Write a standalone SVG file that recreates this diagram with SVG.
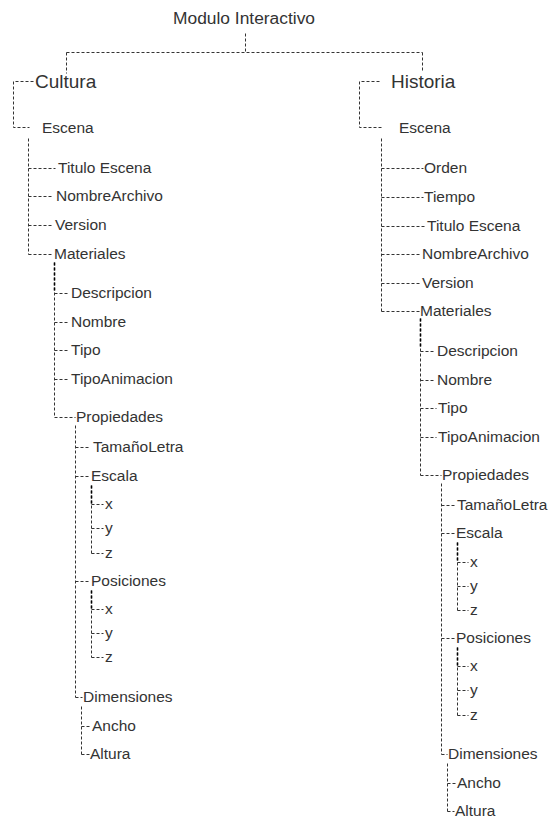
<svg xmlns="http://www.w3.org/2000/svg" width="552" height="818" viewBox="0 0 552 818">
<style>
text{font-family:"Liberation Sans",Arial,sans-serif;fill:#333;}
.t{font-size:15.5px;}
.h{font-size:19px;}
.c path{fill:none;stroke:#333;stroke-width:1;stroke-dasharray:3 2;}
.c path.b{stroke:#000;stroke-width:1.6;}
</style>
<rect width="552" height="818" fill="#fff"/>
<g class="c" id="connectors" transform="translate(0.5,0.5)">
<path d="M245,33V52M66,52H422M66,52V73M422,52V71"/>
<path d="M33,81H13V127H29"/>
<path d="M379,81H359V127H383"/>
<path d="M28,138V254M28,168H55M28,196H53M28,225H53M28,254H53"/>
<path d="M381,138V311M381,168H423M381,197H423M381,226H424M381,254H420M381,283H420M381,311H419"/>
<path d="M54,262V417M54,293H67M54,322H69M54,350H69M54,379H69M54,417H75"/>
<path class="b" d="M54,262V290"/>
<path d="M420,318V475M420,351H433M420,380H435M420,408H436M420,437H436M420,475H441"/>
<path class="b" d="M420,318V347"/>
<path d="M75,425V697M75,447H90M75,476H90M75,581H90M75,697H82"/>
<path d="M91,485V553M91,504H103M91,528H103M91,553H103"/>
<path class="b" d="M91,485V503"/>
<path d="M91,590V657M91,609H103M91,633H103M91,657H103"/>
<path class="b" d="M91,590V608"/>
<path d="M81,706V754M81,726H90M81,754H89"/>
<path d="M441,483V754M441,505H455M441,533H455M441,638H455M441,754H447"/>
<path d="M457,542V610M457,562H468M457,586H468M457,610H468"/>
<path class="b" d="M457,542V560"/>
<path d="M457,647V715M457,666H468M457,690H468M457,715H468"/>
<path class="b" d="M457,647V665"/>
<path d="M447,763V811M447,783H455M447,811H454"/>
</g>
<g id="modulo"><text x="173" y="24" textLength="142" lengthAdjust="spacingAndGlyphs" style="font-size:16px">Modulo Interactivo</text></g>
<g id="cultura"><text class="h" x="35" y="88">Cultura</text></g>
<g id="historia"><text class="h" x="391" y="88">Historia</text></g>
<g id="c-escena"><text class="t" x="42" y="133">Escena</text></g>
<g id="h-escena"><text class="t" x="399" y="133">Escena</text></g>
<g id="c-titulo"><text class="t" x="58" y="173">Titulo Escena</text></g>
<g id="c-nombrearchivo"><text class="t" x="56" y="201">NombreArchivo</text></g>
<g id="c-version"><text class="t" x="55" y="230">Version</text></g>
<g id="c-materiales"><text class="t" x="54" y="259">Materiales</text></g>
<g id="h-orden"><text class="t" x="424" y="173">Orden</text></g>
<g id="h-tiempo"><text class="t" x="424" y="202">Tiempo</text></g>
<g id="h-titulo"><text class="t" x="427" y="231">Titulo Escena</text></g>
<g id="h-nombrearchivo"><text class="t" x="422" y="259">NombreArchivo</text></g>
<g id="h-version"><text class="t" x="422" y="288">Version</text></g>
<g id="h-materiales"><text class="t" x="420" y="316">Materiales</text></g>
<g id="c-descripcion"><text class="t" x="71" y="298">Descripcion</text></g>
<g id="c-nombre"><text class="t" x="71" y="327">Nombre</text></g>
<g id="c-tipo"><text class="t" x="71" y="355">Tipo</text></g>
<g id="c-tipoanimacion"><text class="t" x="71" y="384">TipoAnimacion</text></g>
<g id="c-propiedades"><text class="t" x="76" y="422">Propiedades</text></g>
<g id="h-descripcion"><text class="t" x="437" y="356">Descripcion</text></g>
<g id="h-nombre"><text class="t" x="437" y="385">Nombre</text></g>
<g id="h-tipo"><text class="t" x="438" y="413">Tipo</text></g>
<g id="h-tipoanimacion"><text class="t" x="438" y="442">TipoAnimacion</text></g>
<g id="h-propiedades"><text class="t" x="442" y="480">Propiedades</text></g>
<g id="c-tamanoletra"><text class="t" x="93" y="452">TamañoLetra</text></g>
<g id="c-escala"><text class="t" x="91" y="481">Escala</text></g>
<g id="c-escala-x"><text class="t" x="105" y="509">x</text></g>
<g id="c-escala-y"><text class="t" x="105" y="533">y</text></g>
<g id="c-escala-z"><text class="t" x="105" y="558">z</text></g>
<g id="c-posiciones"><text class="t" x="91" y="586">Posiciones</text></g>
<g id="c-pos-x"><text class="t" x="105" y="614">x</text></g>
<g id="c-pos-y"><text class="t" x="105" y="638">y</text></g>
<g id="c-pos-z"><text class="t" x="105" y="662">z</text></g>
<g id="c-dimensiones"><text class="t" x="83" y="702">Dimensiones</text></g>
<g id="c-ancho"><text class="t" x="92" y="731">Ancho</text></g>
<g id="c-altura"><text class="t" x="90" y="759">Altura</text></g>
<g id="h-tamanoletra"><text class="t" x="457" y="510">TamañoLetra</text></g>
<g id="h-escala"><text class="t" x="456" y="538">Escala</text></g>
<g id="h-escala-x"><text class="t" x="470" y="567">x</text></g>
<g id="h-escala-y"><text class="t" x="470" y="591">y</text></g>
<g id="h-escala-z"><text class="t" x="470" y="615">z</text></g>
<g id="h-posiciones"><text class="t" x="456" y="643">Posiciones</text></g>
<g id="h-pos-x"><text class="t" x="470" y="671">x</text></g>
<g id="h-pos-y"><text class="t" x="470" y="695">y</text></g>
<g id="h-pos-z"><text class="t" x="470" y="720">z</text></g>
<g id="h-dimensiones"><text class="t" x="448" y="759">Dimensiones</text></g>
<g id="h-ancho"><text class="t" x="457" y="788">Ancho</text></g>
<g id="h-altura"><text class="t" x="455" y="816">Altura</text></g>
</svg>
